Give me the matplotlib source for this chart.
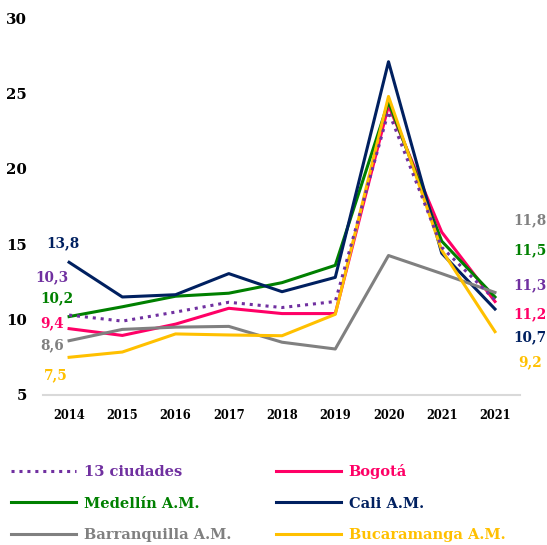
import matplotlib
matplotlib.use("Agg")
import matplotlib.pyplot as plt

years = ["2014", "2015", "2016", "2017", "2018", "2019", "2020", "2021", "2021"]
names = ["13 ciudades", "Bogotá", "Medellín A.M.", "Cali A.M.", "Barranquilla A.M.", "Bucaramanga A.M."]
colors = ["#7030A0", "#FF0066", "#008000", "#002060", "#808080", "#FFC000"]
ciudades13 = [10.3, 9.9, 10.5, 11.15, 10.8, 11.2, 23.8, 14.8, 11.3]
bogota = [9.4, 8.95, 9.7, 10.75, 10.4, 10.4, 24.2, 15.8, 11.2]
medellin = [10.2, 10.85, 11.55, 11.75, 12.45, 13.6, 24.45, 15.2, 11.5]
cali = [13.8, 11.5, 11.65, 13.05, 11.85, 12.8, 27.1, 14.4, 10.7]
barranquilla = [8.6, 9.35, 9.5, 9.55, 8.5, 8.05, 14.25, 13.05, 11.8]
bucaramanga = [7.5, 7.85, 9.05, 8.98, 8.93, 10.35, 24.8, 14.6, 9.2]
series = [ciudades13, bogota, medellin, cali, barranquilla, bucaramanga]
first_labels = ["10,3", "9,4", "10,2", "13,8", "8,6", "7,5"]
last_labels = ["11,3", "11,2", "11,5", "10,7", "11,8", "9,2"]
yticks = [5, 10, 15, 20, 25, 30]

# label offsets in pixels (dx, dy)
first_off = [(-17, 38), (-17, 5.6), (-12, 18.6), (-6, 18.8), (-17, -4.3), (-13.5, -17.7)]
last_off = [(35, 14.5), (35, -12.5), (35, 47), (35, -28), (35, 72), (35, -31)]

FONT = "DejaVu Serif"
W, H = 547, 545
fig = plt.figure(figsize=(W / 100, H / 100), dpi=100)
ax = fig.add_axes([43 / W, 1 - 395 / H, (520 - 43) / W, (395 - 18) / H])

x = list(range(len(years)))
handles = []
for i, (vals, name, c) in enumerate(zip(series, names, colors)):
    if i == 0:
        ln, = ax.plot(x, vals, color=c, lw=2.2, linestyle=(0, (1, 1.6)), zorder=3)
    else:
        ln, = ax.plot(x, vals, color=c, lw=2.2, zorder=2)
    handles.append(ln)
    ax.annotate(first_labels[i], xy=(x[0], vals[0]), xytext=first_off[i],
                textcoords="offset pixels", ha="center", va="center",
                color=c, fontsize=9.8, fontweight="bold", family=FONT)
    ax.annotate(last_labels[i], xy=(x[-1], vals[-1]), xytext=last_off[i],
                textcoords="offset pixels", ha="center", va="center",
                color=c, fontsize=9.8, fontweight="bold", family=FONT,
                annotation_clip=False)

ax.set_xlim(-0.49, 8.47)
ax.set_ylim(5, 30)
ax.set_xticks(x)
ax.set_xticklabels(years, fontsize=8.3, fontweight="bold", family=FONT)
ax.set_yticks(yticks)
ax.set_yticklabels([str(t) for t in yticks], fontsize=10.7, fontweight="bold", family=FONT)
ax.tick_params(axis="both", length=0)
ax.tick_params(axis="x", pad=10)
ax.tick_params(axis="y", pad=11.5)
for s in ["top", "right", "left"]:
    ax.spines[s].set_visible(False)
ax.spines["bottom"].set_color("#d9d9d9")
ax.spines["bottom"].set_linewidth(1.5)
ax.patch.set_alpha(0)

order = [0, 2, 4, 1, 3, 5]
leg = fig.legend([handles[k] for k in order], [names[k] for k in order],
                 ncol=2, loc="upper left", bbox_to_anchor=(11 / W, 1 - 464 / H),
                 frameon=False, handlelength=4.45, handletextpad=0.55,
                 columnspacing=3.05, labelspacing=1.2, borderpad=0, borderaxespad=0,
                 prop={"family": FONT, "weight": "bold", "size": 10.5})
for t, k in zip(leg.get_texts(), order):
    t.set_color(colors[k])

fig.savefig("out.png", dpi=100)
